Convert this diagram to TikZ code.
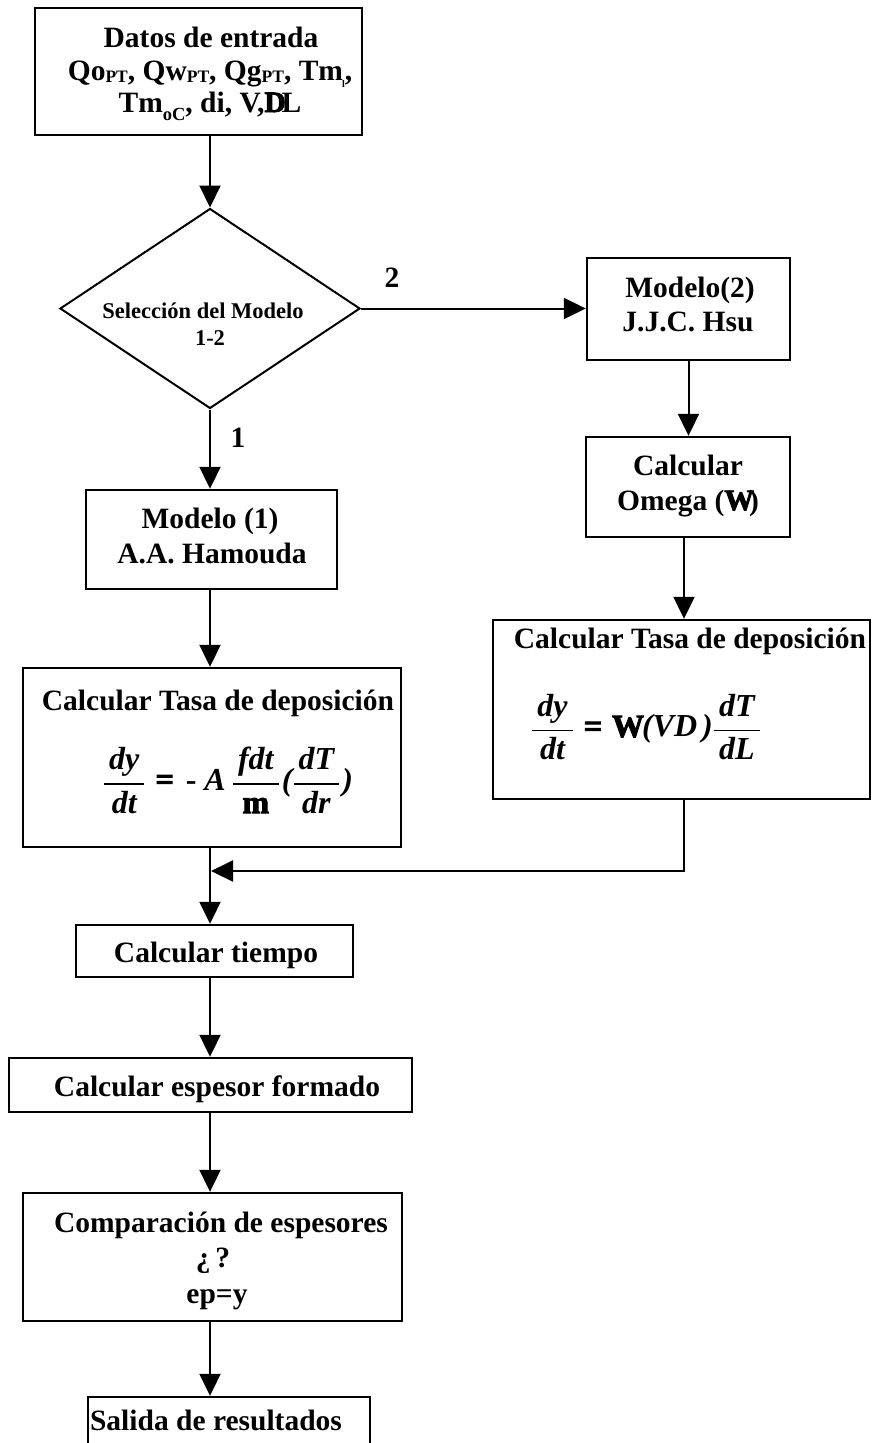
\documentclass[tikz,border=0pt]{standalone}
\usepackage{amsmath}
\usepackage{fontspec}
\setmainfont{Liberation Serif}
\newfontfamily\heavyf[FakeBold=3]{Liberation Serif}
\usetikzlibrary{arrows.meta,shapes.geometric}
\newcommand\bi{\bfseries\itshape}
\newcommand\hv{\heavyf\bfseries}
\newcommand\fr[2]{\genfrac{}{}{1.6pt}{0}{\raisebox{4pt}{\kern5pt\bi #1\kern5pt}}{\raisebox{-6pt}{\kern5pt #2\kern5pt}}}
\newcommand\sbs[1]{\raisebox{-2pt}{\fontsize{17.5}{17.5}\selectfont #1}}
\newcommand\sbo[1]{\raisebox{-8pt}{\fontsize{18.5}{18.5}\selectfont #1}}
\newcommand\tl{\kern-1pt\raisebox{-7pt}{\fontsize{10}{10}\selectfont l}}
\begin{document}
\begin{tikzpicture}[x=1pt,y=-1pt,
  box/.style={draw,line width=2.4pt,inner sep=0pt},
  dia/.style={draw,diamond,line width=2pt,inner sep=0pt,minimum width=300pt,minimum height=200pt},
  conn/.style={line width=2pt,-{Triangle[length=22pt,width=21pt]}},
  txt/.style={font=\fontsize{29.5}{34}\selectfont\bfseries,inner sep=0pt,anchor=base},
  txts/.style={font=\fontsize{22.5}{27}\selectfont\bfseries,inner sep=0pt,anchor=base},
  fml/.style={font=\fontsize{32}{36}\selectfont,inner sep=0pt,anchor=center}]
\useasboundingbox[fill=white] (0,0) rectangle (871,1443);
% top box
\node[box,minimum width=327pt,minimum height=127pt] (in) at (198.5,71.5) {};
\node[txt] (in1) at (211,47) {Datos de entrada};
\node[txt] (in2) at (210,80) {Qo\sbs{PT}, Qw\sbs{PT}, Qg\sbs{PT}, Tm\tl,};
\node[txt] (in3) at (210,112) {Tm\sbo{oC}, di, V,{\hv D}\kern-4pt L};
% decision
\node[dia] (dia) at (210,308.5) {};
\node[txts] (d1) at (203,318) {Selección del Modelo};
\node[txts] (d2) at (210,345) {1-2};
\node[txt] (l2) at (392,287) {2};
\node[txt] (l1) at (238,447) {1};
% right branch
\node[box,minimum width=203pt,minimum height=102pt] (m2) at (688.5,309) {};
\node[txt] (m2a) at (690,297) {Modelo(2)};
\node[txt] (m2b) at (688,331) {J.J.C. Hsu};
\node[box,minimum width=204pt,minimum height=100pt] (om) at (688,487) {};
\node[txt] (oma) at (688,475) {Calcular};
\node[txt] (omb) at (688,510) {Omega ({\hv W}\kern-5pt)};
\node[box,minimum width=377pt,minimum height=179pt] (rt) at (681.5,709.5) {};
\node[txt] (rta) at (690,648) {Calcular Tasa de deposición};
\node[fml] (rtf) at (646,727) {$\fr{dy}{\bi dt}\kern10pt\hbox{\hv =}\kern10pt\hbox{\hv W}\kern-2pt\hbox{\bi (VD\kern5pt)}\fr{dT}{\bi dL}$};
% left branch
\node[box,minimum width=251pt,minimum height=99pt] (m1) at (211.5,539.5) {};
\node[txt] (m1a) at (210,528) {Modelo (1)};
\node[txt] (m1b) at (212,563) {A.A. Hamouda};
\node[box,minimum width=378pt,minimum height=179pt] (lt) at (212,757.5) {};
\node[txt] (lta) at (218,710) {Calcular Tasa de deposición};
\node[fml] (ltf) at (228,780) {$\fr{dy}{\bi dt}\kern10pt\hbox{\hv =}\kern12pt\hbox{\bfseries -}\kern8pt\hbox{\bi A}\kern6pt\fr{fdt}{\hv m}\kern2pt\hbox{\bi (}\fr{dT}{\bi dr}\kern2pt\hbox{\bi )}$};
% lower chain
\node[box,minimum width=277pt,minimum height=52pt] (tm) at (214.5,951) {};
\node[txt] (tma) at (216,962) {Calcular tiempo};
\node[box,minimum width=403pt,minimum height=54pt] (es) at (210.5,1085) {};
\node[txt] (esa) at (217,1096) {Calcular espesor formado};
\node[box,minimum width=379pt,minimum height=128pt] (cp) at (212.5,1257) {};
\node[txt] (cpa) at (221,1232) {Comparación de espesores};
\node[txt] (cpb) at (213,1267) {¿\,?};
\node[txt] (cpc) at (217,1303) {ep=y};
\node[box,minimum width=282pt,minimum height=80pt] (sl) at (229,1437) {};
\node[txt] (sla) at (216,1430) {Salida de resultados};
% connectors
\coordinate (L) at (210,0);
\coordinate (R) at (684,0);
\coordinate (mrg) at (211,871);
\draw[conn] (dia.north |- in.south) -- (dia.north);
\draw[conn] (dia.east) -- (dia.east -| m2.west);
\draw[conn] (dia.south) -- (dia.south |- m1.north);
\draw[conn] (m2.south) -- (m2.south |- om.north);
\draw[conn] (om.south -| R) -- (rt.north -| R);
\draw[conn] (m1.south -| L) -- (lt.north -| L);
\draw[conn] (rt.south -| R) |- (mrg);
\draw[conn] (lt.south -| L) -- (tm.north -| L);
\draw[conn] (tm.south -| L) -- (es.north -| L);
\draw[conn] (es.south -| L) -- (cp.north -| L);
\draw[conn] (cp.south -| L) -- (sl.north -| L);
\end{tikzpicture}
\end{document}
